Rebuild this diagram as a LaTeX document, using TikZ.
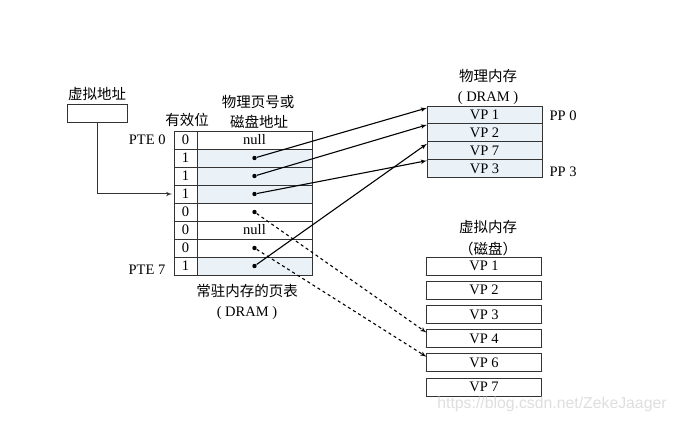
\documentclass[tikz,border=0pt]{standalone}
\usepackage{fontspec}
\setmainfont{Liberation Serif}
\setsansfont{Liberation Sans}
\newfontfamily\cjk{Noto Sans CJK SC}
\usetikzlibrary{shapes,arrows,positioning}
\definecolor{rowblue}{HTML}{EAF2F8}
\definecolor{linegray}{HTML}{333333}
\definecolor{markgray}{HTML}{DEDEDE}

\begin{document}
\begin{tikzpicture}[x=1pt, y=-1pt, >=latex', line width=.9pt, font=\fontsize{14.5}{16}\selectfont,
	cell/.style={draw=linegray, outer sep=0, inner sep=0, minimum height=18pt},
	valid/.style={cell, minimum width=23pt},
	addr/.style={cell, minimum width=115pt},
	used/.style={addr, fill=rowblue},
	phys/.style={cell, fill=rowblue, minimum width=115pt, minimum height=17.9pt},
	disk/.style={cell, minimum width=115pt},
	dot/.style={circle, fill=black, inner sep=0, minimum size=4.4pt},
	link/.style={line width=1.1pt},
	cjktext/.style={font=\cjk\fontsize{14.5}{16}\selectfont, inner sep=0}]
	\useasboundingbox (0,0) rectangle (677,422);
	% We start by placing the blocks
	\node [cell, anchor=north west, minimum width=60pt] (vaddr) at (67,104) {};
	\node [cjktext] (vaddrtitle) at (97,94) {虚拟地址};
	% page table
	\node [valid, anchor=north west] (v0) at (174,131) {0};
	\node [valid, below=0pt of v0] (v1) {1};
	\node [valid, below=0pt of v1] (v2) {1};
	\node [valid, below=0pt of v2] (v3) {1};
	\node [valid, below=0pt of v3] (v4) {0};
	\node [valid, below=0pt of v4] (v5) {0};
	\node [valid, below=0pt of v5] (v6) {0};
	\node [valid, below=0pt of v6] (v7) {1};
	\node [addr, right=0pt of v0] (a0) {null};
	\node [used, right=0pt of v1] (a1) {};
	\node [used, right=0pt of v2] (a2) {};
	\node [used, right=0pt of v3] (a3) {};
	\node [addr, right=0pt of v4] (a4) {};
	\node [addr, right=0pt of v5] (a5) {null};
	\node [addr, right=0pt of v6] (a6) {};
	\node [used, right=0pt of v7] (a7) {};
	\node [dot] (d1) at (a1) {};
	\node [dot] (d2) at (a2) {};
	\node [dot] (d3) at (a3) {};
	\node [dot] (d4) at (a4) {};
	\node [dot] (d6) at (a6) {};
	\node [dot] (d7) at (a7) {};
	\node [left=8pt of v0, inner sep=0] (pte0) {PTE 0};
	\node [inner sep=0] (pte7) at (147,270) {PTE 7};
	\node [cjktext] (validtitle) at (187,120) {有效位};
	\node [cjktext] (addrtitle) at (258,102) {物理页号或};
	\node [cjktext] (addrtitleb) at (259,122) {磁盘地址};
	\node [cjktext] (tabletitle) at (247,291) {常驻内存的页表};
	\node [inner sep=0] (tabletitleb) at (247,313) {( DRAM )};
	% physical memory
	\node [phys, anchor=north west] (pvp1) at (427,106) {VP 1};
	\node [phys, below=0pt of pvp1] (pvp2) {VP 2};
	\node [phys, below=0pt of pvp2] (pvp7) {VP 7};
	\node [phys, below=0pt of pvp7] (pvp3) {VP 3};
	\node [cjktext] (phystitle) at (488,76) {物理内存};
	\node [inner sep=0] (phystitleb) at (488,98) {( DRAM )};
	\node [inner sep=0] (pp0) at (563,116) {PP 0};
	\node [inner sep=0] (pp3) at (563,172) {PP 3};
	% virtual memory
	\node [disk, anchor=north west] (dvp1) at (426.5,257) {VP 1};
	\node [disk, below=6.2pt of dvp1] (dvp2) {VP 2};
	\node [disk, below=6.2pt of dvp2] (dvp3) {VP 3};
	\node [disk, below=6.2pt of dvp3] (dvp4) {VP 4};
	\node [disk, below=6.2pt of dvp4] (dvp6) {VP 6};
	\node [disk, below=6.2pt of dvp6] (dvp7) {VP 7};
	\node [cjktext] (disktitle) at (488,227) {虚拟内存};
	\node [cjktext] (disktitleb) at (488,249) {（磁盘）};
	\node [text=markgray, font=\sffamily\fontsize{15.8}{18}\selectfont, inner sep=0] (mark) at (552,404) {https://blog.csdn.net/ZekeJaager};
	% arrow ends on the left edges
	\coordinate [above=7pt of pvp1.west] (in1);
	\coordinate [above=8pt of pvp2.west] (in2);
	\coordinate [above=8pt of pvp3.west] (in3);
	\coordinate [above=7pt of pvp7.west] (in7);
	\coordinate [below=3pt of dvp4.north west] (in4);
	\coordinate [below=3pt of dvp6.north west] (in6);
	% Once the nodes are placed, connecting them is easy.
	\draw [->, line width=1pt, draw=linegray] (vaddr.south) |- ([xshift=-2pt]v3.west);
	\draw [->, link] (d1) -- (in1);
	\draw [->, link] (d2) -- (in2);
	\draw [->, link] (d3) -- (in3);
	\draw [->, link] (d7) -- (in7);
	\draw [->, link, dashed] (d4) -- (in4);
	\draw [->, link, dashed] (d6) -- (in6);
\end{tikzpicture}
\end{document}
